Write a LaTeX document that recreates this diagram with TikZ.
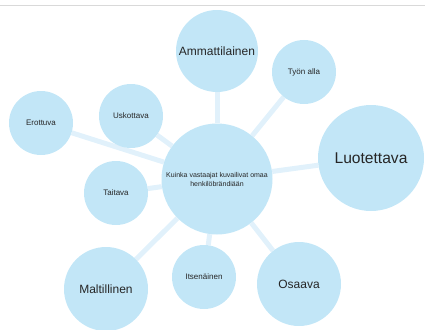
\documentclass[tikz,border=0pt]{standalone}
\usepackage{fontspec}
\setmainfont{Liberation Sans}
\usetikzlibrary{backgrounds}
\definecolor{bubblefill}{HTML}{C2E6F7}
\definecolor{linkblue}{HTML}{E1F1FB}
\begin{document}
\begin{tikzpicture}[x=1pt,y=-1pt,
        bubble/.style = {circle,fill=bubblefill,inner sep=0pt,text=black!85,align=center},
        link/.style = {linkblue,line width=5pt}]
                \useasboundingbox (0,0) rectangle (425,329);
                \draw[black!15,line width=1pt] (0,6) -- (425,6);

                \node[bubble,minimum size=111pt,font=\fontsize{7}{9}\selectfont]
                    (center) at (217,179) {Kuinka vastaajat kuvailivat omaa\\henkilöbrändiään};
                \node[bubble,minimum size=82pt,font=\fontsize{12}{14}\selectfont]
                    (ammatti) at (217,51) {Ammattilainen};
                \node[bubble,minimum size=64pt,font=\fontsize{8}{10}\selectfont]
                    (tyon) at (304,72) {Työn alla};
                \node[bubble,minimum size=64pt,font=\fontsize{8}{10}\selectfont]
                    (uskottava) at (131,116) {Uskottava};
                \node[bubble,minimum size=64pt,font=\fontsize{8}{10}\selectfont]
                    (erottuva) at (41,123) {Erottuva};
                \node[bubble,minimum size=106pt,font=\fontsize{15.6}{18}\selectfont]
                    (luotettava) at (371,158) {Luotettava};
                \node[bubble,minimum size=64pt,font=\fontsize{8}{10}\selectfont]
                    (taitava) at (116,193) {Taitava};
                \node[bubble,minimum size=84pt,font=\fontsize{12}{14}\selectfont]
                    (maltillinen) at (106,289) {Maltillinen};
                \node[bubble,minimum size=64pt,font=\fontsize{8}{10}\selectfont]
                    (itsenainen) at (204,277) {Itsenäinen};
                \node[bubble,minimum size=84pt,font=\fontsize{12}{14}\selectfont]
                    (osaava) at (299,284) {Osaava};

                \begin{scope}[on background layer]
                    \draw[link] (center) -- (ammatti);
                    \draw[link] (center) -- (tyon);
                    \draw[link] (center) -- (uskottava);
                    \draw[link] (center) -- (erottuva);
                    \draw[link] (center) -- (luotettava);
                    \draw[link] (center) -- (taitava);
                    \draw[link] (center) -- (maltillinen);
                    \draw[link] (center) -- (itsenainen);
                    \draw[link] (center) -- (osaava);
                \end{scope}
            \end{tikzpicture}
\end{document}
